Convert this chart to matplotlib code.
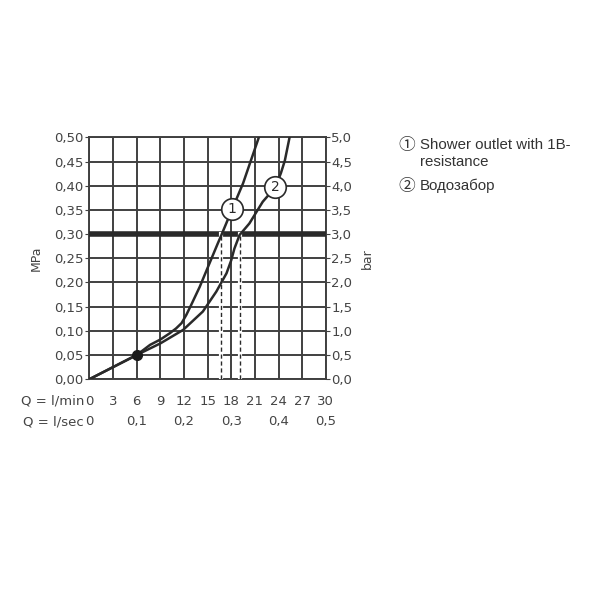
import matplotlib
matplotlib.use("Agg")
import matplotlib.pyplot as plt
import numpy as np

# Data
q1 = [0, 6.0, 7.7, 9.0, 10.2, 11.0, 11.7, 12.3, 12.9, 14.0, 15.25, 16.3, 16.75, 18.1, 19.5, 21.5]
p1 = [0, 0.05, 0.071, 0.082, 0.095, 0.105, 0.116, 0.133, 0.153, 0.191, 0.24, 0.281, 0.298, 0.351, 0.405, 0.50]
q2 = [0, 6.0, 9.0, 11.9, 14.4, 16.1, 17.4, 18.0, 18.4, 19.05, 20.3, 22.0, 23.6, 24.3, 24.8, 25.4]
p2 = [0, 0.05, 0.074, 0.102, 0.14, 0.181, 0.219, 0.246, 0.27, 0.298, 0.322, 0.367, 0.397, 0.426, 0.452, 0.50]
limit_pressure = 0.30
dashed_q = [16.75, 19.05]
marker_q, marker_p = 6.0, 0.05
label_pos = {"1": (18.1, 0.351), "2": (23.6, 0.397)}
xticks_min = [0, 3, 6, 9, 12, 15, 18, 21, 24, 27, 30]
xticks_sec = ["0", "0,1", "0,2", "0,3", "0,4", "0,5"]
yticks_mpa = [0, 0.05, 0.10, 0.15, 0.20, 0.25, 0.30, 0.35, 0.40, 0.45, 0.50]
legend_lines = ["\u2460 Shower outlet with 1B-", "resistance", "\u2461 Водозабор"]

tc = "#444444"
fig = plt.figure(figsize=(6, 6), dpi=100)
ax = fig.add_axes([0.149, 0.368, 0.394, 0.403])
ax.set_xlim(0, 30)
ax.set_ylim(0, 0.5)
ax.set_xticks(xticks_min)
ax.set_yticks(yticks_mpa)
ax.grid(True, color="#404040", linewidth=1.4)
ax.set_axisbelow(True)
for s in ax.spines.values():
    s.set_color("#404040")
    s.set_linewidth(1.4)
ax.tick_params(axis="y", direction="out", length=3, color="#404040", labelsize=9.5, labelcolor=tc, pad=1)
ax.tick_params(axis="x", length=0, labelbottom=False)
ax.set_yticklabels([f"{v:.2f}".replace(".", ",") for v in yticks_mpa])

# x tick labels as text rows
for v in xticks_min:
    ax.text(v, -0.046, str(v), ha="center", va="center", fontsize=9.5, color=tc, clip_on=False)
for i, lab in enumerate(xticks_sec):
    ax.text(i * 6, -0.088, lab, ha="center", va="center", fontsize=9.5, color=tc, clip_on=False)
ax.text(-0.7, -0.046, "Q = l/min", ha="right", va="center", fontsize=9.5, color=tc, clip_on=False)
ax.text(-0.7, -0.088, "Q = l/sec", ha="right", va="center", fontsize=9.5, color=tc, clip_on=False)

# right axis
ax2 = ax.twinx()
ax2.set_ylim(0, 5)
ax2.set_yticks(np.array(yticks_mpa) * 10)
ax2.set_yticklabels([f"{v*10:.1f}".replace(".", ",") for v in yticks_mpa])
ax2.tick_params(axis="y", direction="out", length=3, color="#404040", labelsize=9.5, labelcolor=tc, pad=1)
for s in ax2.spines.values():
    s.set_visible(False)
ax2.set_ylabel("bar", fontsize=9, color=tc, labelpad=6)
ax.set_ylabel("MPa", fontsize=9, color=tc, labelpad=8)

# curves
ax.axhline(limit_pressure, color="#2a2a2a", linewidth=4, zorder=3)
for q in dashed_q:
    ax.plot([q, q], [0, limit_pressure], color="white", linewidth=3, zorder=3)
    ax.plot([q, q], [0, limit_pressure], color="#2a2a2a", linewidth=1, linestyle=(0, (3, 2)), zorder=3)
ax.plot(q1, p1, color="#2a2a2a", linewidth=1.8, zorder=4, solid_joinstyle="round")
ax.plot(q2, p2, color="#2a2a2a", linewidth=1.8, zorder=4, solid_joinstyle="round")
ax.plot([marker_q], [marker_p], "o", color="#1a1a1a", markersize=7, zorder=5)
for lab, (x, y) in label_pos.items():
    ax.plot([x], [y], "o", markersize=15.5, markerfacecolor="white", markeredgecolor="#2a2a2a", markeredgewidth=1.2, zorder=6)
    ax.text(x, y, lab, ha="center", va="center", fontsize=10, color="#2a2a2a", zorder=7)

# legend text
fam = ["Liberation Sans", "Noto Sans CJK SC", "DejaVu Sans"]
fs = 10.8
fig.text(0.664, 0.758, legend_lines[0][0], fontsize=12, color="#333333", family=fam, va="center")
fig.text(0.700, 0.758, legend_lines[0][2:], fontsize=fs, color="#333333", family=fam, va="center")
fig.text(0.700, 0.730, legend_lines[1], fontsize=fs, color="#333333", family=fam, va="center")
fig.text(0.664, 0.690, legend_lines[2][0], fontsize=12, color="#333333", family=fam, va="center")
fig.text(0.700, 0.690, legend_lines[2][2:], fontsize=fs, color="#333333", family=fam, va="center")

fig.savefig("out.png", dpi=100, facecolor="white")
